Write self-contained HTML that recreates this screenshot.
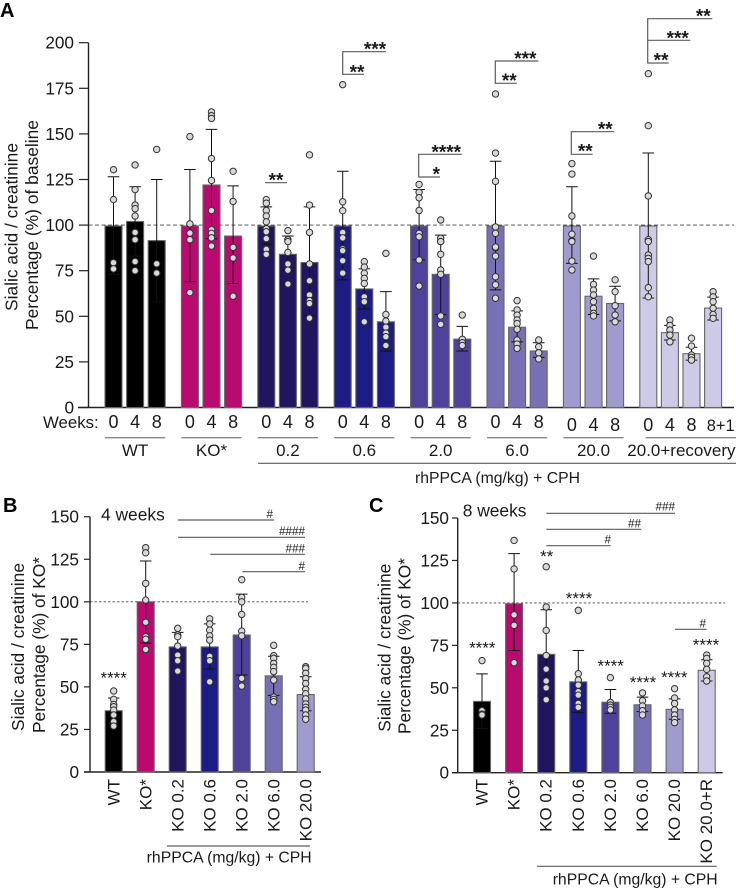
<!DOCTYPE html>
<html lang="en">
<head>
<meta charset="utf-8">
<title>Sialic acid / creatinine bar charts</title>
<style>
html,body{margin:0;padding:0;background:#fff}
svg{display:block}
text{font-family:"Liberation Sans",Arial,sans-serif;fill:#1a1a1a}
.star{font-size:19px;font-weight:bold;text-anchor:middle;transform:translateY(-2.5px)}
.star-s{font-size:17px;text-anchor:middle;transform:translateY(-1.5px)}
.hash{font-size:11.7px;text-anchor:end}
.br{stroke:#5c5c5c;stroke-width:1.2;fill:none}
.t17{font-size:17.4px}
.lab{font-size:16.8px}
.panel{font-size:20px;font-weight:bold;fill:#000}
.rh{font-size:15.7px}
</style>
</head>
<body>
<svg id="fig" xmlns="http://www.w3.org/2000/svg" width="736" height="889" viewBox="0 0 736 889">
<text class="panel" x="0" y="17">A</text>
<text class="panel" x="3" y="512">B</text>
<text class="panel" x="369" y="512">C</text>

<g id="panel-a"></g>
<g id="panel-b"></g>
<g id="panel-c"></g>

<!-- Panel A labels -->
<text class="t17" transform="translate(17.5,311) rotate(-90)" textLength="168" lengthAdjust="spacingAndGlyphs">Sialic acid / creatinine</text>
<text class="t17" transform="translate(38,330) rotate(-90)" textLength="210" lengthAdjust="spacingAndGlyphs">Percentage (%) of baseline</text>
<text class="lab" x="43" y="428">Weeks:</text>
<path class="br" d="M258 463.3H736"/>
<text class="rh" x="415" y="483" textLength="165" lengthAdjust="spacingAndGlyphs">rhPPCA (mg/kg) + CPH</text>

<!-- Panel A brackets -->
<g>
<path class="br" d="M265 182.7H287"/>
<text class="star" x="276" y="189">**</text>
<path class="br" d="M364 74.3H342.7V51.7H386"/>
<text class="star" x="357" y="81">**</text>
<text class="star" x="375" y="58">***</text>
<path class="br" d="M440 177H418.7V154.3H461.7"/>
<text class="star" x="436.3" y="183">*</text>
<text class="star" x="446.3" y="161">****</text>
<path class="br" d="M516.7 83.3H495.3V61H538.3"/>
<text class="star" x="509.3" y="89.5">**</text>
<text class="star" x="525.3" y="67.5">***</text>
<path class="br" d="M592.7 154.3H571.3V131.7H614.3"/>
<text class="star" x="585.3" y="160">**</text>
<text class="star" x="605.3" y="138">**</text>
<path class="br" d="M668.7 63H647.7V18.7H712.3M647.7 40.3H690.3"/>
<text class="star" x="661" y="69">**</text>
<text class="star" x="677.7" y="47">***</text>
<text class="star" x="703.3" y="25">**</text>
</g>

<!-- Panel B labels -->
<text class="t17" transform="translate(24,731) rotate(-90)" textLength="168" lengthAdjust="spacingAndGlyphs">Sialic acid / creatinine</text>
<text class="t17" transform="translate(45,733) rotate(-90)" textLength="176" lengthAdjust="spacingAndGlyphs">Percentage (%) of KO*</text>
<text class="t17" x="101" y="520.7">4 weeks</text>
<path class="br" d="M167 846H310"/>
<text class="rh" x="146.7" y="862.7" textLength="165" lengthAdjust="spacingAndGlyphs">rhPPCA (mg/kg) + CPH</text>
<g>
<path class="br" d="M178 520H274M178 537.3H305M210.3 554.3H305M242.3 571.7H305"/>
<text class="hash" x="273" y="518">#</text>
<text class="hash" x="305" y="535">####</text>
<text class="hash" x="305" y="552.7">###</text>
<text class="hash" x="305" y="570">#</text>
<text class="star-s" x="113.7" y="685">****</text>
</g>

<!-- Panel C labels -->
<text class="t17" transform="translate(390.3,731.7) rotate(-90)" textLength="168" lengthAdjust="spacingAndGlyphs">Sialic acid / creatinine</text>
<text class="t17" transform="translate(410.5,734) rotate(-90)" textLength="176" lengthAdjust="spacingAndGlyphs">Percentage (%) of KO*</text>
<text class="t17" x="462.7" y="516.7">8 weeks</text>
<path class="br" d="M537 866.3H716.7"/>
<text class="rh" x="552.7" y="884.3" textLength="165" lengthAdjust="spacingAndGlyphs">rhPPCA (mg/kg) + CPH</text>
<g>
<path class="br" d="M546.3 513.3H675M546.3 529.3H641.3M546.3 545.7H610.7M675 629.3H706.7"/>
<text class="hash" x="675" y="510.7">###</text>
<text class="hash" x="641" y="527.7">##</text>
<text class="hash" x="611" y="543.7">#</text>
<text class="hash" x="706" y="627.3">#</text>
<text class="star-s" x="482.3" y="655">****</text>
<text class="star-s" x="546.7" y="563.3">**</text>
<text class="star-s" x="579" y="605.3">****</text>
<text class="star-s" x="610.7" y="673">****</text>
<text class="star-s" x="643" y="689.3">****</text>
<text class="star-s" x="674.3" y="684.7">****</text>
<text class="star-s" x="706" y="652">****</text>
</g>
</svg>

<script>
// ---------- Panel A data ----------
const aGroups = ['WT', 'KO*', '0.2', '0.6', '2.0', '6.0', '20.0', '20.0+recovery'];
const aWeeks = [['0','4','8'],['0','4','8'],['0','4','8'],['0','4','8'],['0','4','8'],['0','4','8'],['0','4','8'],['0','4','8','8+1']];
const aTicks = [0, 25, 50, 75, 100, 125, 150, 175, 200];
const aMeans = [[99.5,102,91.5],[99.5,122,94],[99.5,84,79.5],[99.5,65,47],[99.5,73,37.5],[99.5,44,31],[99.5,61,57],[99.5,41,29.5,54.5]];
const aUpper = [[126.5,121,125],[130.5,152.5,121.5],[110,94,110],[129.5,76,63.5],[119.5,94.5,44.5],[135,53,35.5],[121,70.5,66.5],[139.5,45,33,60.5]];
const aLower = [[73,83,58],[69,92.5,68],[89.5,75,50.5],[70,54,31],[81,51,31],[64.5,36,27.5],[79,51,47.5],[60,37,26,48]];
const aPoints = [
 [[130.4,114,79.4,76],[133,119.5,111,109,105,96,92,80,75],[141.5,78.8,73.7,73.7]],
 [[148.5,100.7,95.6,92,63],[162,160,158.5,136.5,124.5,108,97.5,95.5,93,88.5],[129.5,113,87.8,82,61]],
 [[114,112,108,105,101.8,98,96.4,92.6,86.7,84],[97,92,92,91,85,78.7,75.3,67.7],[138.5,111,96,78.7,69.5,61.7,58.6,57,49]],
 [[177,112.8,107.9,96,93,87,86,80.5,73.7],[80,77,73.6,70.8,68,60.7,58,47],[84.5,51,47.4,44,40.8,38.8,34]],
 [[122.3,118,115,108,95.5,93.6,80.9,66.6],[102.8,92.8,91,91,84,75.4,73,50.2,45.6],[50.7,37.4,35.5,34]],
 [[171.9,139.5,124,99,95.5,87.6,88,83,71.7,67.3,59.9],[58.6,53.5,50.7,48,46,42.9,37,34.8,32.4],[37,33.3,30,26.6]],
 [[133.7,128,105,95,91.4,91,80.3,75.4],[83,67.5,64.4,61.7,58,54.4,51.6,50.2],[70,63.5,55.8,50.7,47]],
 [[183,154.5,116,92,91,83.6,81.8,80,65.7,60.7],[48,45,42.5,39.7,36],[38,33.7,28.8,27.5,26],[63.5,60.7,58,54.4,51,48.9]]
];
// ---------- Panel B data ----------
const bCategories = ['WT','KO*','KO 0.2','KO 0.6','KO 2.0','KO 6.0','KO 20.0'];
const bTicks = [0, 25, 50, 75, 100, 125, 150];
const bMeans = [36,100,73.5,73.5,80.5,56.5,45.5];
const bUpper = [43.5,124,82,87,104.5,68,56];
const bLower = [28.5,75.7,65.5,60.5,57,45,36];
const bPoints = [
 [47.6,42.7,39.7,38.4,36.4,33.5,29.6,27],
 [131.8,128.8,110.8,101,88,79.5,78,72],
 [84.4,80.5,79.5,74,68.7,65.4,59.3],
 [90,87,83.4,80,77.5,68,65.4,53],
 [113,102.6,100,92.6,82.8,80,55,50.5],
 [74.4,68.3,66.8,63.8,61.5,59,54,44,42.7,41.3],
 [61.9,60.9,58,55,52,48.6,46,43,40,38,36.4,33.5,31]
];
// ---------- Panel C data ----------
const cCategories = ['WT','KO*','KO 0.2','KO 0.6','KO 2.0','KO 6.0','KO 20.0','KO 20.0+R'];
const cTicks = [0, 25, 50, 75, 100, 125, 150];
const cMeans = [42,99.5,69.7,53.5,41.5,40,37.3,60.3];
const cUpper = [58.2,129,96,72,49,44.5,43.5,66.5];
const cLower = [26,72,44,35.5,35,36,31.5,54];
const cPoints = [
 [66,36.5,34.5,34],
 [136.8,120,93,86.8,64.8],
 [121.3,97.6,83.8,69,61,54,50,43],
 [95.6,58.3,54.6,51.6,47.7,45.7,40.8,38.5],
 [56,41.4,39.8,38.5,37],
 [47,42.4,39.3,36.5,34],
 [49.5,44,40.8,37,34,31.4,29.5],
 [69.3,67.3,64.4,60.9,56.5,54]
];
const palette = ['#000000','#b90a6f','#211560','#1c1c84','#4e429b','#7870b5','#a09bcf','#cccae6'];

const NS = 'http://www.w3.org/2000/svg';
function add(parent, tag, props) {
  const node = document.createElementNS(NS, tag);
  for (const k in props) node.setAttribute(k, props[k]);
  parent.appendChild(node);
  return node;
}

function drawMark(parent, cx, w, scaleY, mean, up, low, pts, color) {
  let el = add(parent, 'rect', {x: cx - w / 2, y: scaleY(mean), width: w, height: scaleY(0) - scaleY(mean), fill: color, stroke: '#666', 'stroke-width': 1.1});
  
  
  el = add(parent, 'path', {d: 'M' + cx + ' ' + scaleY(low) + 'V' + scaleY(up) + 'M' + (cx - 5.8) + ' ' + scaleY(up) + 'H' + (cx + 5.8) + 'M' + (cx - 5.8) + ' ' + scaleY(low) + 'H' + (cx + 5.8), fill: 'none', stroke: '#111', 'stroke-width': 1});
  
  
  pts.forEach(function (v) {
    const dot = add(parent, 'circle', {cx: cx, cy: scaleY(v), r: 3.2, fill: '#d9d9d9', stroke: '#333', 'stroke-width': 1});
    
    
  });
}

function drawAxes(parent, ax, x1, tickLeft, zeroLeft, labelRight, scaleY, ticks, refEnd, dash) {
  let el = add(parent, 'line', {x1: ax, x2: refEnd, y1: scaleY(100), y2: scaleY(100), stroke: '#444', 'stroke-width': 0.9, 'stroke-dasharray': dash});
  
  
  el = add(parent, 'line', {x1: ax, x2: ax, y1: scaleY(ticks[ticks.length - 1]), y2: scaleY(0), stroke: '#222', 'stroke-width': 1.4});
  
  
  el = add(parent, 'line', {x1: zeroLeft, x2: x1, y1: scaleY(0), y2: scaleY(0), stroke: '#222', 'stroke-width': 1.4});
  
  
  ticks.forEach(function (t) {
    const tk = add(parent, 'line', {x1: tickLeft, x2: ax, y1: scaleY(t), y2: scaleY(t), stroke: '#222', 'stroke-width': 1.2});
    
    
    const lb = add(parent, 'text', {x: labelRight, y: scaleY(t) + 6, 'text-anchor': 'end', 'font-size': 17.2});
    lb.textContent = String(t);
    
    
  });
}

// Panel A
(function () {
  const g = document.getElementById('panel-a');
  const y = function (v) { return 407.5 - v * 1.824; };
  const groupX = function (gi) { return 113.5 + gi * 76.4; };
  const barX = function (gi, i) { return groupX(gi) + i * 21.6; };
  drawAxes(g, 88.5, 734, 79, 78, 74, y, aTicks, 734, '4 2.5');
  aGroups.forEach(function (name, gi) {
    const isLast = gi === aGroups.length - 1;
    aWeeks[gi].forEach(function (wk, i) {
      const cx = barX(gi, i);
      drawMark(g, cx, 17, y, aMeans[gi][i], aUpper[gi][i], aLower[gi][i], aPoints[gi][i], palette[gi]);
      const wide = wk.length > 1;
      const lb = add(g, 'text', {x: wide ? cx + 7.6 : cx, y: gi >= 6 ? 431 : 428, 'text-anchor': 'middle', 'font-size': wide ? 16.4 : 18});
      lb.textContent = wk;
      
      
    });
    const first = barX(gi, 0);
    const last = isLast ? 736 : barX(gi, aWeeks[gi].length - 1) + 8.5;
    const ln = add(g, 'line', {x1: isLast ? first - 2.7 : first - 8.5, x2: last, y1: 437.7, y2: 437.7, stroke: '#888', 'stroke-width': 1.3});
    
    
    const gl = add(g, 'text', {x: isLast ? 735.5 : barX(gi, 1), y: 456, 'text-anchor': isLast ? 'end' : 'middle', 'font-size': 17});
    gl.textContent = name;
    
    
  });
})();

function drawColumnPanel(id, categories, ticks, means, upper, lower, points, zeroY, unit, ax, axisEnd, firstX, stepX, refEnd, labelRight, tickLeft, labelOffset) {
  const g = document.getElementById(id);
  const y = function (v) { return zeroY - v * unit; };
  const x = function (i) { return firstX + i * stepX; };
  drawAxes(g, ax, axisEnd, tickLeft, tickLeft, labelRight, y, ticks, refEnd, '2.5 2');
  categories.forEach(function (name, i) {
    drawMark(g, x(i), 17, y, means[i], upper[i], lower[i], points[i], palette[i]);
    const lb = add(g, 'text', {transform: 'translate(' + (x(i) + labelOffset) + ',779) rotate(-90)', 'text-anchor': 'end', 'font-size': 17});
    lb.textContent = name;
    
    
  });
}

drawColumnPanel('panel-b', bCategories, bTicks, bMeans, bUpper, bLower, bPoints, 772, 1.702, 90, 321, 113.7, 32, 308, 79, 84, 5.8);
drawColumnPanel('panel-c', cCategories, cTicks, cMeans, cUpper, cLower, cPoints, 772.7, 1.698, 457.7, 722.7, 482, 32.1, 725, 449, 452, 5.5);
</script>
</body>
</html>
